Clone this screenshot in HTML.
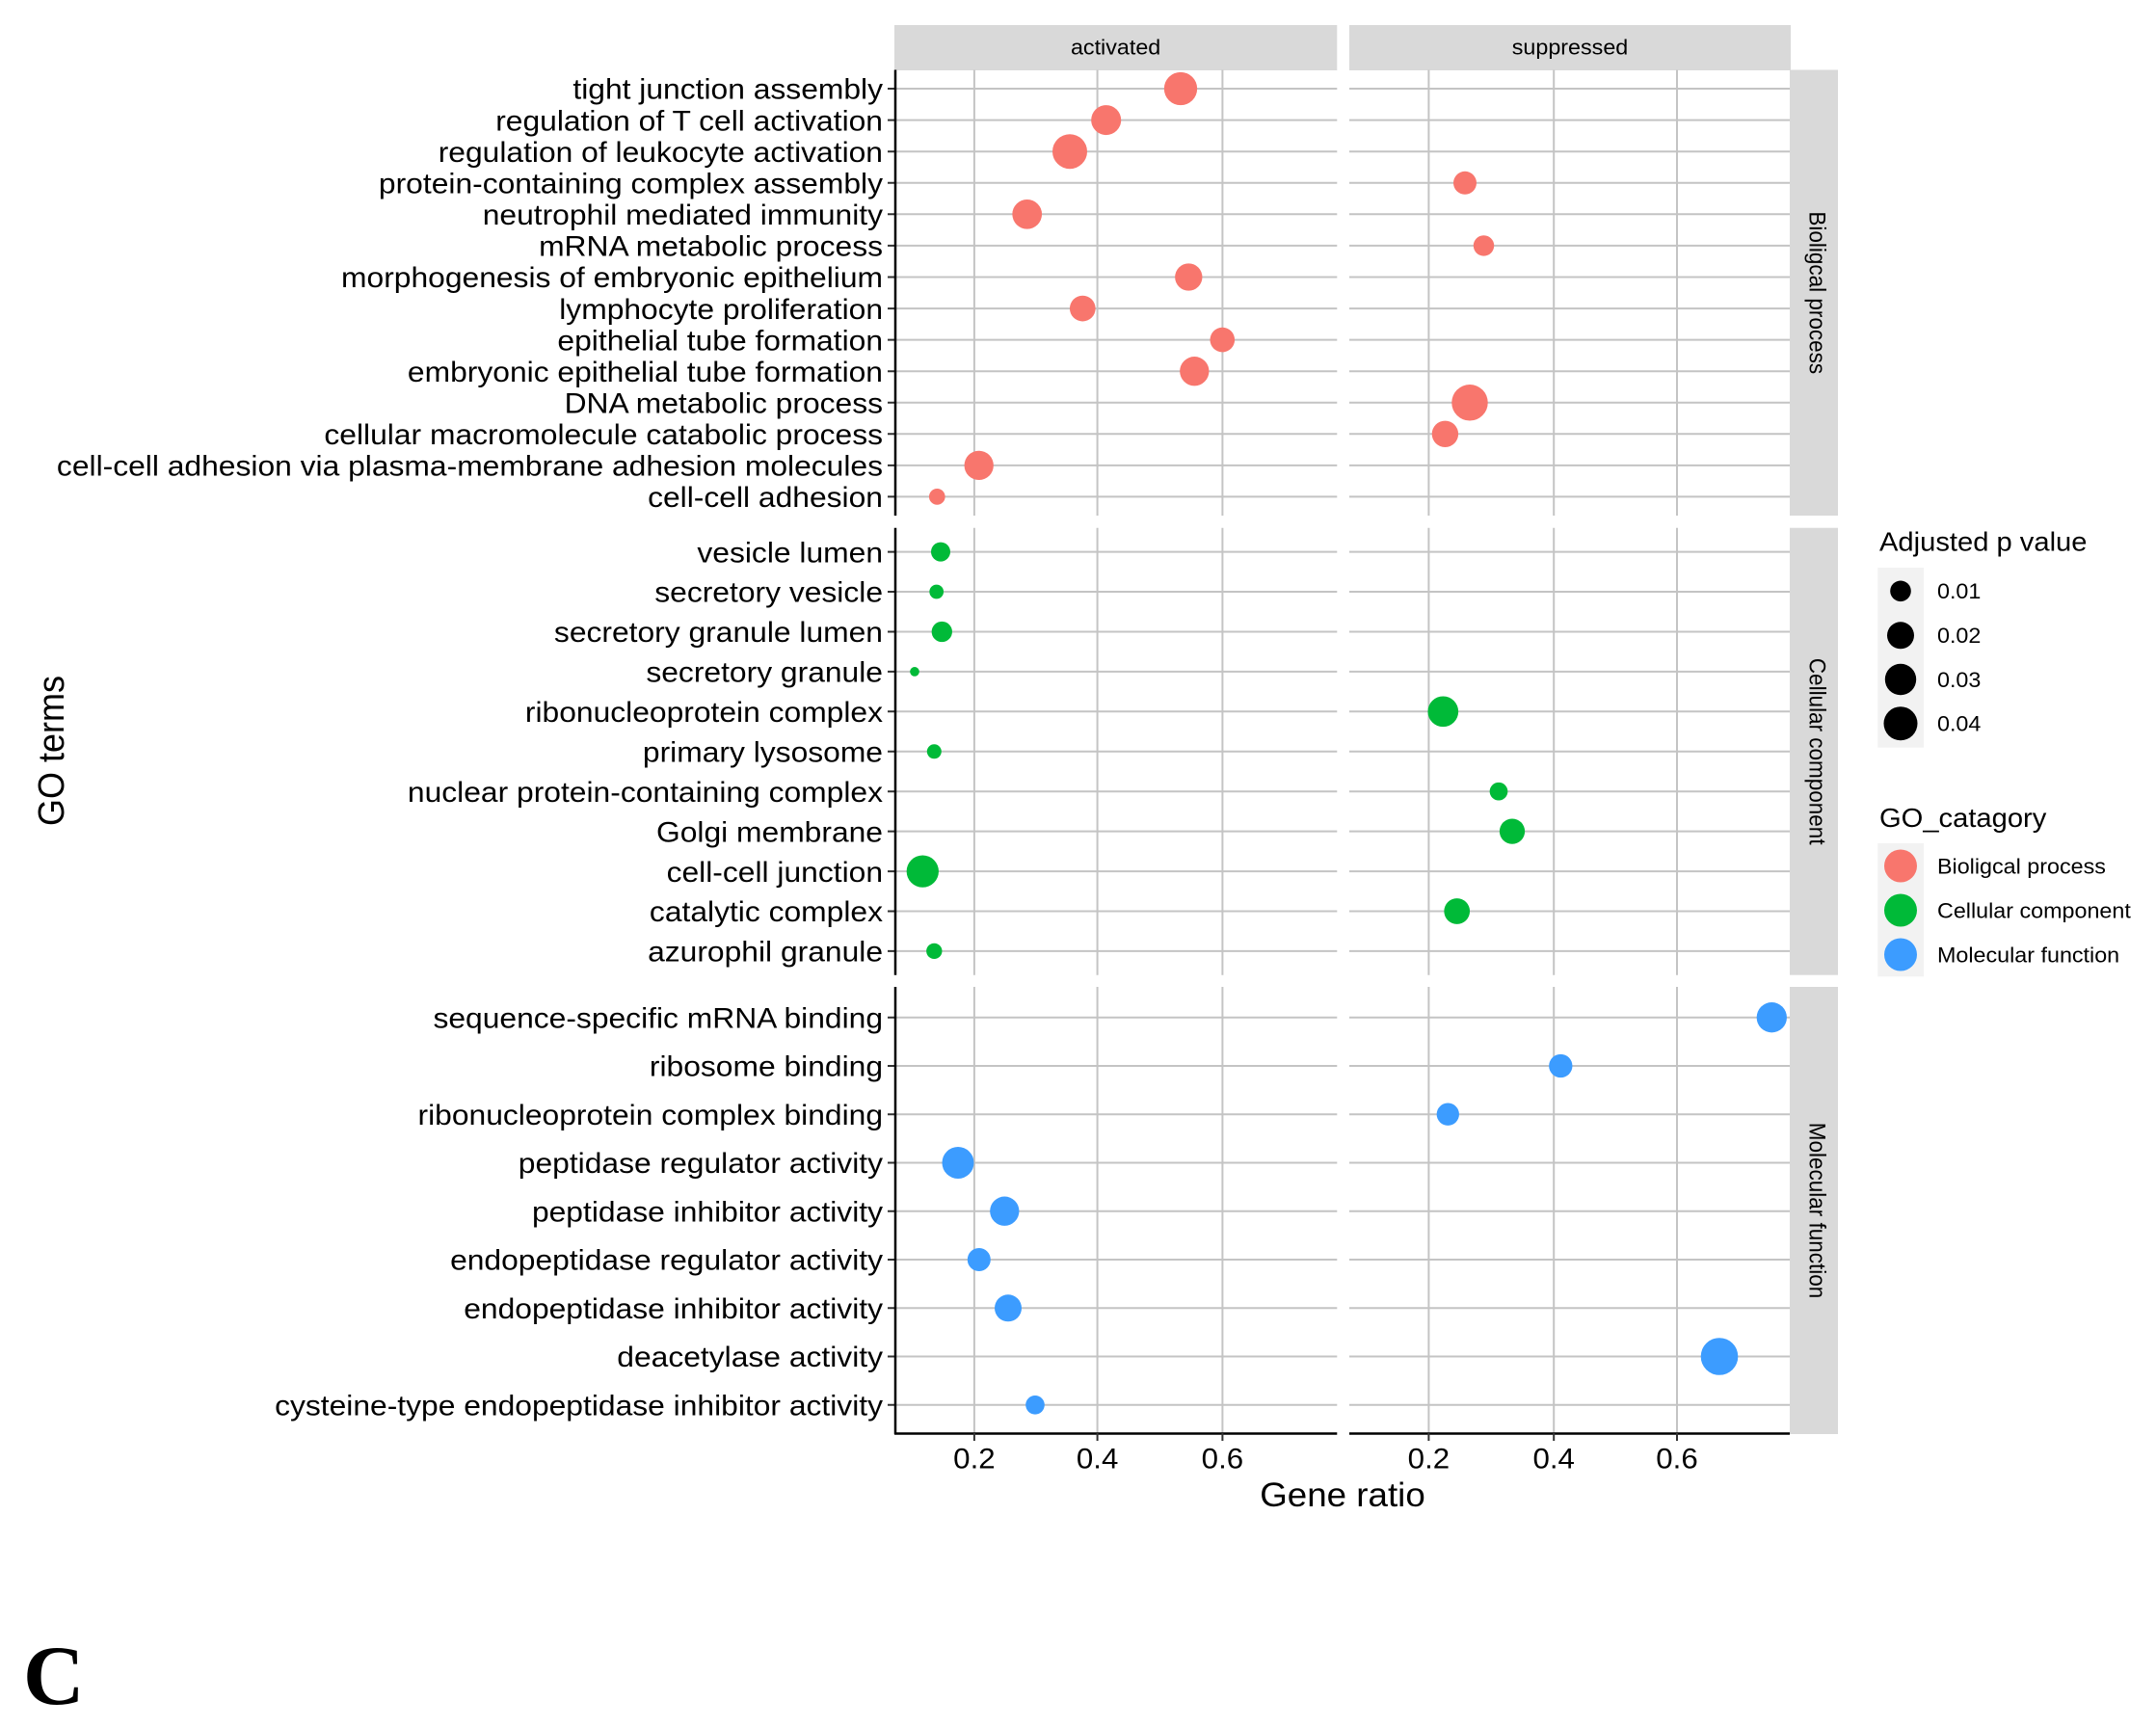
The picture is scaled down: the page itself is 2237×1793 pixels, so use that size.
<!DOCTYPE html>
<html>
<head>
<meta charset="utf-8">
<style>
  html, body { margin: 0; padding: 0; background: #ffffff; }
  svg { display: block; }
  text { font-family: "Liberation Sans", Arial, sans-serif; fill: #000; }
</style>
</head>
<body>
<svg xmlns="http://www.w3.org/2000/svg" width="2237" height="1793" viewBox="0 0 2237 1793">
  <rect x="0" y="0" width="2237" height="1793" fill="#ffffff"/>

  <!-- Top strips -->
  <rect x="928" y="26" width="459.3" height="47" fill="#D9D9D9"/>
  <rect x="1400" y="26" width="458" height="47" fill="#D9D9D9"/>
  <g transform="translate(1157.6 0) scale(1.06 1)"><text x="0" y="56.7" font-size="22" text-anchor="middle" fill="#1a1a1a">activated</text></g>
  <g transform="translate(1629 0) scale(1.06 1)"><text x="0" y="56.7" font-size="22" text-anchor="middle" fill="#1a1a1a">suppressed</text></g>

  <!-- Right strips -->
  <rect x="1857" y="72.5" width="50" height="462.5" fill="#D9D9D9"/>
  <rect x="1857" y="547.7" width="50" height="464" fill="#D9D9D9"/>
  <rect x="1857" y="1024" width="50" height="464" fill="#D9D9D9"/>
  <g transform="translate(1877.5 303.75) rotate(90) scale(1 1.06)"><text x="0" y="0" font-size="22.5" text-anchor="middle" fill="#1a1a1a">Bioligcal process</text></g>
  <g transform="translate(1877.5 779.7) rotate(90) scale(1 1.06)"><text x="0" y="0" font-size="22.5" text-anchor="middle" fill="#1a1a1a">Cellular component</text></g>
  <g transform="translate(1877.5 1256) rotate(90) scale(1 1.06)"><text x="0" y="0" font-size="22.5" text-anchor="middle" fill="#1a1a1a">Molecular function</text></g>

  <!-- Horizontal gridlines -->
  <path fill="none" stroke="#C4C4C4" stroke-width="2" d="
    M929 92H1387.3M1400 92H1857
    M929 124.6H1387.3M1400 124.6H1857
    M929 157.2H1387.3M1400 157.2H1857
    M929 189.8H1387.3M1400 189.8H1857
    M929 222.3H1387.3M1400 222.3H1857
    M929 254.9H1387.3M1400 254.9H1857
    M929 287.5H1387.3M1400 287.5H1857
    M929 320.1H1387.3M1400 320.1H1857
    M929 352.6H1387.3M1400 352.6H1857
    M929 385.2H1387.3M1400 385.2H1857
    M929 417.8H1387.3M1400 417.8H1857
    M929 450.3H1387.3M1400 450.3H1857
    M929 482.9H1387.3M1400 482.9H1857
    M929 515.4H1387.3M1400 515.4H1857
    M929 572.6H1387.3M1400 572.6H1857
    M929 614H1387.3M1400 614H1857
    M929 655.5H1387.3M1400 655.5H1857
    M929 696.9H1387.3M1400 696.9H1857
    M929 738.3H1387.3M1400 738.3H1857
    M929 779.8H1387.3M1400 779.8H1857
    M929 821.2H1387.3M1400 821.2H1857
    M929 862.6H1387.3M1400 862.6H1857
    M929 904.1H1387.3M1400 904.1H1857
    M929 945.5H1387.3M1400 945.5H1857
    M929 986.9H1387.3M1400 986.9H1857
    M929 1055.7H1387.3M1400 1055.7H1857
    M929 1106H1387.3M1400 1106H1857
    M929 1156.2H1387.3M1400 1156.2H1857
    M929 1206.5H1387.3M1400 1206.5H1857
    M929 1256.7H1387.3M1400 1256.7H1857
    M929 1307H1387.3M1400 1307H1857
    M929 1357.3H1387.3M1400 1357.3H1857
    M929 1407.5H1387.3M1400 1407.5H1857
    M929 1457.8H1387.3M1400 1457.8H1857"/>

  <!-- Vertical gridlines -->
  <path fill="none" stroke="#C4C4C4" stroke-width="2" d="
    M1010.9 72.5V535M1138.6 72.5V535M1268.4 72.5V535M1482.4 72.5V535M1612.2 72.5V535M1740 72.5V535
    M1010.9 547.7V1011.7M1138.6 547.7V1011.7M1268.4 547.7V1011.7M1482.4 547.7V1011.7M1612.2 547.7V1011.7M1740 547.7V1011.7
    M1010.9 1024V1487M1138.6 1024V1487M1268.4 1024V1487M1482.4 1024V1487M1612.2 1024V1487M1740 1024V1487"/>

  <!-- Y ticks -->
  <path fill="none" stroke="#333333" stroke-width="2" d="
    M921 92H929M921 124.6H929M921 157.2H929M921 189.8H929M921 222.3H929M921 254.9H929M921 287.5H929
    M921 320.1H929M921 352.6H929M921 385.2H929M921 417.8H929M921 450.3H929M921 482.9H929M921 515.4H929
    M921 572.6H929M921 614H929M921 655.5H929M921 696.9H929M921 738.3H929M921 779.8H929M921 821.2H929
    M921 862.6H929M921 904.1H929M921 945.5H929M921 986.9H929
    M921 1055.7H929M921 1106H929M921 1156.2H929M921 1206.5H929M921 1256.7H929M921 1307H929
    M921 1357.3H929M921 1407.5H929M921 1457.8H929"/>

  <!-- Y axis lines -->
  <path fill="none" stroke="#000000" stroke-width="2.5" d="M929 72.5V535M929 547.7V1011.7M929 1024V1488"/>
  <!-- X axis lines -->
  <path fill="none" stroke="#000000" stroke-width="2.5" d="M928 1487.5H1387.3M1400 1487.5H1857"/>
  <!-- X ticks -->
  <path fill="none" stroke="#333333" stroke-width="2" d="M1010.9 1487V1495M1138.6 1487V1495M1268.4 1487V1495M1482.4 1487V1495M1612.2 1487V1495M1740 1487V1495"/>

  <!-- X tick labels -->
  <g font-size="29.5" fill="#1a1a1a">
    <g transform="translate(1010.9 0) scale(1.06 1)"><text x="0" y="1523.3" text-anchor="middle">0.2</text></g>
    <g transform="translate(1138.6 0) scale(1.06 1)"><text x="0" y="1523.3" text-anchor="middle">0.4</text></g>
    <g transform="translate(1268.4 0) scale(1.06 1)"><text x="0" y="1523.3" text-anchor="middle">0.6</text></g>
    <g transform="translate(1482.4 0) scale(1.06 1)"><text x="0" y="1523.3" text-anchor="middle">0.2</text></g>
    <g transform="translate(1612.2 0) scale(1.06 1)"><text x="0" y="1523.3" text-anchor="middle">0.4</text></g>
    <g transform="translate(1740 0) scale(1.06 1)"><text x="0" y="1523.3" text-anchor="middle">0.6</text></g>
  </g>

  <!-- Axis titles -->
  <g transform="translate(1393 0) scale(1.05 1)"><text x="0" y="1563" font-size="35" text-anchor="middle">Gene ratio</text></g>
  <g transform="translate(66 779) rotate(-90) scale(1 1.05)"><text x="0" y="0" font-size="36" text-anchor="middle">GO terms</text></g>

  <!-- Y labels -->
  <g transform="translate(916 0) scale(1.06 1)" font-size="30" text-anchor="end" fill="#1a1a1a">
    <text x="0" y="102.7">tight junction assembly</text>
    <text x="0" y="135.3">regulation of T cell activation</text>
    <text x="0" y="167.9">regulation of leukocyte activation</text>
    <text x="0" y="200.5">protein-containing complex assembly</text>
    <text x="0" y="233.0">neutrophil mediated immunity</text>
    <text x="0" y="265.6">mRNA metabolic process</text>
    <text x="0" y="298.2">morphogenesis of embryonic epithelium</text>
    <text x="0" y="330.8">lymphocyte proliferation</text>
    <text x="0" y="363.3">epithelial tube formation</text>
    <text x="0" y="395.9">embryonic epithelial tube formation</text>
    <text x="0" y="428.5">DNA metabolic process</text>
    <text x="0" y="461.0">cellular macromolecule catabolic process</text>
    <text x="0" y="493.6">cell-cell adhesion via plasma-membrane adhesion molecules</text>
    <text x="0" y="526.1">cell-cell adhesion</text>

    <text x="0" y="583.3">vesicle lumen</text>
    <text x="0" y="624.7">secretory vesicle</text>
    <text x="0" y="666.2">secretory granule lumen</text>
    <text x="0" y="707.6">secretory granule</text>
    <text x="0" y="749.0">ribonucleoprotein complex</text>
    <text x="0" y="790.5">primary lysosome</text>
    <text x="0" y="831.9">nuclear protein-containing complex</text>
    <text x="0" y="873.3">Golgi membrane</text>
    <text x="0" y="914.8">cell-cell junction</text>
    <text x="0" y="956.2">catalytic complex</text>
    <text x="0" y="997.6">azurophil granule</text>

    <text x="0" y="1066.4">sequence-specific mRNA binding</text>
    <text x="0" y="1116.7">ribosome binding</text>
    <text x="0" y="1166.9">ribonucleoprotein complex binding</text>
    <text x="0" y="1217.2">peptidase regulator activity</text>
    <text x="0" y="1267.4">peptidase inhibitor activity</text>
    <text x="0" y="1317.7">endopeptidase regulator activity</text>
    <text x="0" y="1368.0">endopeptidase inhibitor activity</text>
    <text x="0" y="1418.2">deacetylase activity</text>
    <text x="0" y="1468.5">cysteine-type endopeptidase inhibitor activity</text>
  </g>

  <!-- BP dots -->
  <g fill="#F8766D">
    <circle cx="1225" cy="92" r="17.15"/>
    <circle cx="1147.7" cy="124.6" r="15.5"/>
    <circle cx="1110" cy="157.2" r="18"/>
    <circle cx="1065.7" cy="222.3" r="15.35"/>
    <circle cx="1233.3" cy="287.5" r="14.15"/>
    <circle cx="1123.3" cy="320.1" r="13.35"/>
    <circle cx="1268.3" cy="352.6" r="12.8"/>
    <circle cx="1239.3" cy="385.2" r="15.15"/>
    <circle cx="1015.7" cy="482.9" r="15.15"/>
    <circle cx="972.3" cy="515.4" r="8.35"/>
    <circle cx="1520" cy="189.8" r="12"/>
    <circle cx="1539.5" cy="254.9" r="10.7"/>
    <circle cx="1525" cy="417.8" r="18.75"/>
    <circle cx="1499.4" cy="450.3" r="13.7"/>
  </g>

  <!-- CC dots -->
  <g fill="#00BA38">
    <circle cx="976" cy="572.6" r="10"/>
    <circle cx="971.7" cy="614" r="7.35"/>
    <circle cx="977.3" cy="655.5" r="10.65"/>
    <circle cx="949" cy="696.9" r="4.85"/>
    <circle cx="969.3" cy="779.8" r="7.5"/>
    <circle cx="957.3" cy="904.1" r="16.65"/>
    <circle cx="969.3" cy="986.9" r="8.15"/>
    <circle cx="1497.3" cy="738.3" r="15.85"/>
    <circle cx="1555" cy="821.2" r="9.35"/>
    <circle cx="1569" cy="862.6" r="13.15"/>
    <circle cx="1511.7" cy="945.5" r="13.35"/>
  </g>

  <!-- MF dots -->
  <g fill="#3C9CFF">
    <circle cx="994" cy="1206.5" r="16.5"/>
    <circle cx="1042.3" cy="1256.7" r="15.15"/>
    <circle cx="1015.8" cy="1307" r="12"/>
    <circle cx="1046" cy="1357.3" r="14"/>
    <circle cx="1074" cy="1457.8" r="9.8"/>
    <circle cx="1838.3" cy="1055.7" r="15.65"/>
    <circle cx="1619.3" cy="1106" r="12.15"/>
    <circle cx="1502.3" cy="1156.2" r="11.65"/>
    <circle cx="1784" cy="1407.5" r="19.3"/>
  </g>

  <!-- Legend: Adjusted p value -->
  <g transform="translate(1950 0) scale(1.06 1)"><text x="0" y="571.7" font-size="27.5">Adjusted p value</text></g>
  <rect x="1948.3" y="589" width="47.7" height="186.7" fill="#F2F2F2"/>
  <circle cx="1972" cy="613.3" r="10.8" fill="#000"/>
  <circle cx="1972" cy="659.3" r="14" fill="#000"/>
  <circle cx="1972" cy="705" r="16.2" fill="#000"/>
  <circle cx="1972" cy="750.7" r="17.5" fill="#000"/>
  <g transform="translate(2010 0) scale(1.06 1)" font-size="22" fill="#1a1a1a">
    <text x="0" y="621.2">0.01</text>
    <text x="0" y="667.2">0.02</text>
    <text x="0" y="712.9">0.03</text>
    <text x="0" y="758.6">0.04</text>
  </g>

  <!-- Legend: GO_catagory -->
  <g transform="translate(1950 0) scale(1.06 1)"><text x="0" y="858" font-size="27.5">GO_catagory</text></g>
  <rect x="1948.3" y="875" width="47.7" height="138.3" fill="#F2F2F2"/>
  <circle cx="1972" cy="898.5" r="17" fill="#F8766D"/>
  <circle cx="1972" cy="944.5" r="17" fill="#00BA38"/>
  <circle cx="1972" cy="990.5" r="17" fill="#3C9CFF"/>
  <g transform="translate(2010 0) scale(1.06 1)" font-size="22" fill="#1a1a1a">
    <text x="0" y="906.5">Bioligcal process</text>
    <text x="0" y="952.5">Cellular component</text>
    <text x="0" y="998.5">Molecular function</text>
  </g>

  <!-- Panel letter -->
  <text x="24" y="1768" font-size="88" font-weight="bold" style="font-family: 'Liberation Serif', serif;">C</text>
</svg>
</body>
</html>
